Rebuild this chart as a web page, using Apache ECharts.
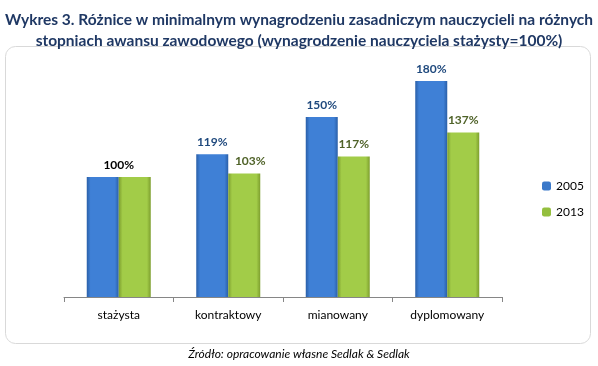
<!DOCTYPE html>
<html><head><meta charset="utf-8">
<script src="https://cdn.jsdelivr.net/npm/echarts@6/dist/echarts.min.js"></script>
<style>html,body{margin:0;padding:0;background:#fff}#c{width:598px;height:366px}</style>
</head><body><div id="c"></div>
<script>
const categories = ['stażysta', 'kontraktowy', 'mianowany', 'dyplomowany'];
const values2005 = [100, 119, 150, 180];
const values2013 = [100, 103, 117, 137];
const seriesNames = ['2005', '2013'];
const titleText = 'Wykres 3. Różnice w minimalnym wynagrodzeniu zasadniczym nauczycieli na różnych\nstopniach awansu zawodowego (wynagrodzenie nauczyciela stażysty=100%)';
const sourceText = 'Źródło: opracowanie własne Sedlak & Sedlak';

const FONT = 'Lato, "Open Sans", sans-serif';
const chart = echarts.init(document.getElementById('c'), null, {renderer: 'canvas'});

function grad(edge, mid) {
  return new echarts.graphic.LinearGradient(0, 0, 1, 0, [
    {offset: 0, color: edge}, {offset: 0.12, color: mid}, {offset: 0.88, color: mid}, {offset: 1, color: edge}
  ]);
}
const blue = grad('#2a5fa8', '#3f80d6');
const green = grad('#7d9e2e', '#a2cc48');

const data2005 = values2005.map((v, i) => i === 0 ? {value: v, label: {color: '#000', offset: [16, 0]}} : v);
const data2013 = values2013.map((v, i) => i === 0 ? {value: v, label: {show: false}} : (i === 1 ? {value: v, label: {offset: [6, 0]}} : v));

chart.setOption({
  animation: false,
  title: {
    text: titleText, left: 'center', top: 4,
    textStyle: {fontFamily: FONT, fontSize: 15.5, fontWeight: 'bold', color: '#1f3864', lineHeight: 21}
  },
  graphic: [
    {type: 'rect', shape: {x: 5.5, y: 46.5, width: 585, height: 297, r: 10}, style: {fill: 'none', stroke: '#d9d9d9', lineWidth: 1}, z: -1},
    {type: 'text', left: 'center', top: 348, style: {text: sourceText, font: 'italic 12px ' + FONT, fill: '#000'}}
  ],
  legend: {
    orient: 'vertical', left: 537, top: 175, itemWidth: 9, itemHeight: 9, itemGap: 14,
    textStyle: {fontFamily: FONT, fontSize: 12, color: '#000'},
    data: [{name: seriesNames[0], itemStyle: {color: '#3a78c9'}}, {name: seriesNames[1], itemStyle: {color: '#94bf3e'}}]
  },
  grid: {left: 64, right: 96, top: 57, bottom: 69},
  xAxis: {
    type: 'category', data: categories,
    axisLine: {lineStyle: {color: '#868686'}},
    axisTick: {show: true, length: 5, lineStyle: {color: '#868686'}},
    axisLabel: {fontFamily: FONT, fontSize: 12, color: '#000', margin: 12}
  },
  yAxis: {type: 'value', min: 0, max: 200, show: false, splitLine: {show: false}},
  series: [
    {name: seriesNames[0], type: 'bar', data: data2005, barWidth: 32, barGap: '0%',
     itemStyle: {color: blue},
     label: {show: true, position: 'top', distance: 6, formatter: '{c}%', fontFamily: FONT, fontSize: 12, fontWeight: 'bold', color: '#1f497d'}},
    {name: seriesNames[1], type: 'bar', data: data2013, barWidth: 32,
     itemStyle: {color: green},
     label: {show: true, position: 'top', distance: 6, formatter: '{c}%', fontFamily: FONT, fontSize: 12, fontWeight: 'bold', color: '#4f6228'}}
  ]
});
</script></body></html>
